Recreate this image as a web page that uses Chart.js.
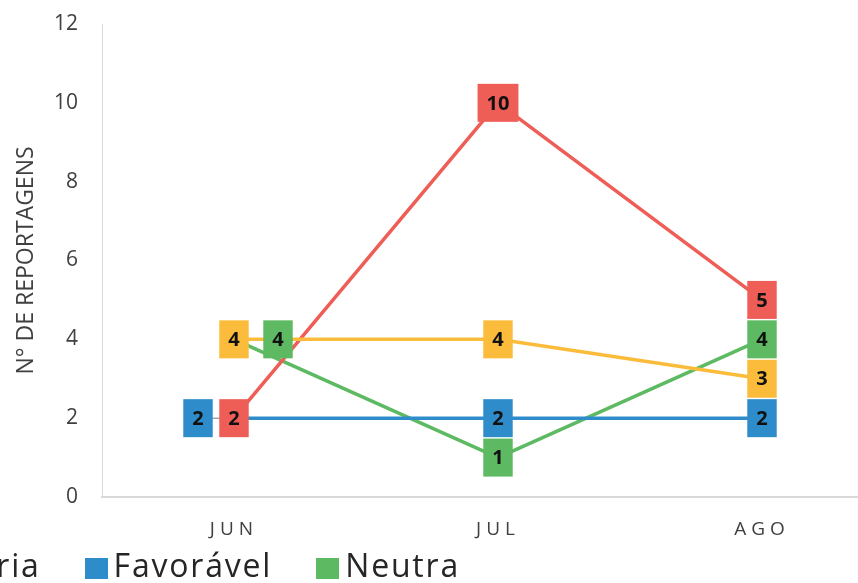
<!DOCTYPE html>
<html>
<head>
<meta charset="utf-8">
<script src="https://cdn.jsdelivr.net/npm/chart.js@4.4.1/dist/chart.umd.min.js"></script>
<style>
  html, body { margin: 0; padding: 0; background: #fff; width: 858px; height: 583px; overflow: hidden; position: relative; }
  #wrap { position: absolute; left: 0; top: 0; width: 904px; height: 583px; }
  #legend { position: absolute; right: 398px; top: 544px; display: flex; gap: 44px; white-space: nowrap;
            font-family: "Open Sans", sans-serif; font-size: 32px; line-height: 42px; letter-spacing: 1.8px; color: #262626; }
  #legend .item { display: flex; align-items: center; flex-shrink: 0; }
  #legend .sw { width: 23px; height: 21px; margin-right: 6px; flex-shrink: 0; position: relative; top: 3px; }
</style>
</head>
<body>
<div id="wrap"><canvas id="chart" width="904" height="583"></canvas></div>
<div id="legend"></div>
<script>
// Reportagens por mês, segundo a orientação
const months = ['JUN', 'JUL', 'AGO'];
const seriesNames = ['Ambígua', 'Contrária', 'Favorável', 'Neutra'];
const ambigua   = [4, 4, 3];
const contraria = [2, 10, 5];
const favoravel = [2, 2, 2];
const neutra    = [4, 1, 4];
const yTickValues = [0, 2, 4, 6, 8, 10, 12];

const colors = ['#FBBC3B', '#EF5D57', '#2E8CCB', '#5DBA62'];
// horizontal nudges of value boxes that would otherwise overlap
const labelShift = [[0, 0, 0], [0, 0, 0], [-36, 0, 0], [44, 0, 0]];

const seriesValues = [ambigua, contraria, favoravel, neutra];

const datasets = seriesValues.map((vals, i) => ({
  label: seriesNames[i],
  data: vals,
  borderColor: colors[i],
  backgroundColor: colors[i],
  borderWidth: 3.5,
  pointRadius: 0,
  tension: 0,
  borderCapStyle: 'round',
  borderJoinStyle: 'round',
  labelShift: labelShift[i]
}));

function collectBoxes(chart) {
  const out = [];
  chart.data.datasets.forEach((ds, i) => {
    const meta = chart.getDatasetMeta(i);
    meta.data.forEach((pt, j) => {
      const dx = ds.labelShift ? ds.labelShift[j] : 0;
      out.push({ x: pt.x + dx, y: pt.y, px: pt.x, py: pt.y, text: String(ds.data[j]), color: ds.borderColor });
    });
  });
  return out;
}

// value boxes with leader lines for the nudged ones
const valueBoxes = {
  id: 'valueBoxes',
  beforeDatasetsDraw(chart) {
    const ctx = chart.ctx;
    ctx.save();
    ctx.strokeStyle = '#a6a6a6';
    ctx.lineWidth = 1.5;
    collectBoxes(chart).forEach(b => {
      if (b.x !== b.px) {
        ctx.beginPath();
        ctx.moveTo(b.x, b.y);
        ctx.lineTo(b.px, b.py);
        ctx.stroke();
      }
    });
    ctx.restore();
  },
  afterDatasetsDraw(chart) {
    const ctx = chart.ctx;
    ctx.save();
    ctx.font = 'bold 20px "Open Sans"';
    ctx.textAlign = 'center';
    ctx.textBaseline = 'middle';
    collectBoxes(chart).forEach(b => {
      const w = ctx.measureText(b.text).width + 18;
      const h = 38;
      ctx.fillStyle = b.color;
      ctx.fillRect(b.x - w / 2, b.y - h / 2, w, h);
      ctx.fillStyle = '#111';
      ctx.fillText(b.text, b.x, b.y + 1);
    });
    ctx.restore();
  }
};

// spaced-out month labels on the category axis
const spacedMonths = {
  id: 'spacedMonths',
  beforeDraw(chart) {
    const s = chart.scales.x;
    if (s && !s._spaced) {
      const orig = s.drawLabels.bind(s);
      s.drawLabels = function (area) {
        this.ctx.save();
        this.ctx.letterSpacing = '5px';
        orig(area);
        this.ctx.restore();
      };
      s._spaced = true;
    }
  }
};

const chart = new Chart(document.getElementById('chart'), {
  type: 'line',
  data: { labels: months, datasets },
  plugins: [valueBoxes, spacedMonths],
  options: {
    responsive: false,
    animation: false,
    devicePixelRatio: 1,
    layout: { padding: { top: 24, right: 10, left: 0, bottom: 0 } },
    plugins: { legend: { display: false }, tooltip: { enabled: false } },
    scales: {
      x: {
        offset: true,
        grid: { display: false, drawTicks: false },
        border: { display: true, color: '#d9d9d9', width: 2 },
        ticks: { color: '#404040', font: { family: 'Open Sans', size: 19 }, padding: 21 },
        afterFit(s) { s.height = 86; s.paddingLeft = 0; s.paddingRight = 0; }
      },
      y: {
        min: 0, max: 12,
        grid: { display: false, drawTicks: false },
        border: { display: true, color: '#d9d9d9', width: 1 },
        afterBuildTicks(s) { s.ticks = yTickValues.map(v => ({ value: v })); },
        ticks: { color: '#404040', font: { family: 'Open Sans', size: 21 }, padding: 24 },
        title: {
          display: true, text: 'N° DE REPORTAGENS', color: '#404040',
          font: { family: 'Open Sans', size: 23 }, padding: { top: 13, bottom: 0 }
        },
        afterFit(s) { s.width = 102; s.paddingTop = 0; s.paddingBottom = 0; }
      }
    }
  }
});

// legend built from the chart's own datasets
const legend = document.getElementById('legend');
chart.data.datasets.forEach(ds => {
  const item = document.createElement('span');
  item.className = 'item';
  const sw = document.createElement('span');
  sw.className = 'sw';
  sw.style.background = ds.backgroundColor;
  const tx = document.createElement('span');
  tx.textContent = ds.label;
  item.appendChild(sw);
  item.appendChild(tx);
  legend.appendChild(item);
});
</script>
</body>
</html>
